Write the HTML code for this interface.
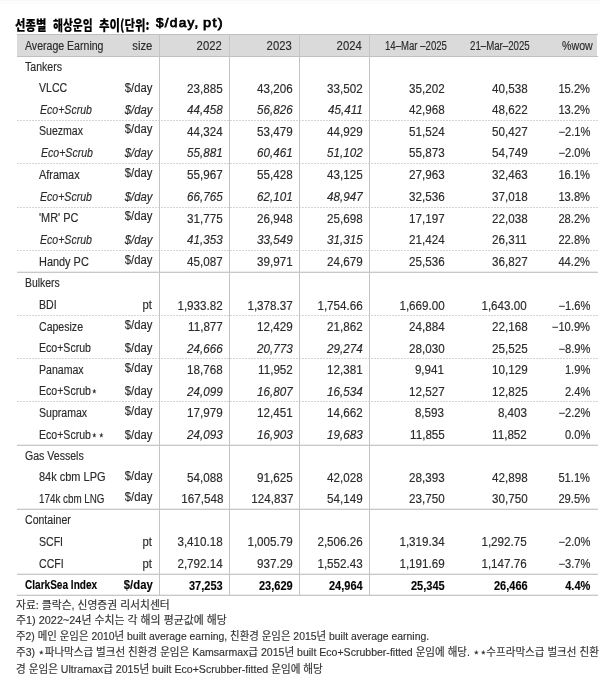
<!DOCTYPE html>
<html><head><meta charset="utf-8"><style>
html,body{margin:0;padding:0;background:#fff;}
.topfade{position:absolute;left:0;top:0;width:600px;height:4px;background:linear-gradient(#f8f8f8 0 1px,#fcfcfc 1px 4px);}
body{width:600px;height:696px;position:relative;overflow:hidden;font-family:"Liberation Sans","Noto Sans CJK KR",sans-serif;color:#2a2a2a;-webkit-text-stroke:0.15px #2a2a2a;}
.t{position:absolute;font-size:12px;line-height:14px;white-space:nowrap;}
.l{transform-origin:left center;transform:scaleX(0.88);}
.r{transform-origin:right center;transform:scaleX(0.97);}
.i{font-style:italic;}
.b{font-weight:bold;color:#000;}
.hl{position:absolute;left:17px;width:581px;height:1px;background:#c8c8c8;box-shadow:0 -1px 0 #ececec;}
.dl{position:absolute;left:17px;width:581px;height:1px;background:repeating-linear-gradient(90deg,#d4d4d4 0 2px,transparent 2px 3px);}
.vl{position:absolute;width:1px;background:#c4c4c4;top:34px;height:562px;}
.hdr{position:absolute;left:17px;top:34px;width:580px;height:23px;background:#dadada;}
.title{position:absolute;left:16px;top:13px;font-size:14px;line-height:18px;font-weight:bold;color:#000;white-space:nowrap;}
.fn{position:absolute;left:17px;font-size:10.5px;line-height:14px;white-space:nowrap;color:#222;}
</style></head><body>

<div class="topfade"></div>
<div style="position:absolute;left:15.39px;top:14.50px;white-space:nowrap;transform-origin:0 0;transform:scaleX(0.8108);font-family:'Noto Sans CJK KR',sans-serif;font-weight:900;font-size:14px;line-height:18px;color:#000">선종별</div>
<div style="position:absolute;left:52.50px;top:14.50px;white-space:nowrap;transform-origin:0 0;transform:scaleX(0.7700);font-family:'Noto Sans CJK KR',sans-serif;font-weight:900;font-size:14px;line-height:18px;color:#000">해상운임</div>
<div style="position:absolute;left:98.90px;top:14.50px;white-space:nowrap;transform-origin:0 0;transform:scaleX(0.8131);font-family:'Noto Sans CJK KR',sans-serif;font-weight:900;font-size:14px;line-height:18px;color:#000">추이(단위:</div>
<div style="position:absolute;left:156.20px;top:13.70px;white-space:nowrap;transform-origin:0 0;transform:scaleX(1.0450);font-family:'Liberation Sans',sans-serif;font-weight:normal;-webkit-text-stroke:0.75px #000;letter-spacing:1.2px;font-size:13px;line-height:18px;color:#000">$/day,</div>
<div style="position:absolute;left:202.70px;top:13.50px;white-space:nowrap;transform-origin:0 0;transform:scaleX(1.1176);font-family:'Liberation Sans',sans-serif;font-weight:normal;-webkit-text-stroke:0.75px #000;letter-spacing:1.2px;font-size:13px;line-height:18px;color:#000">pt)</div>
<div class="hdr"></div>
<div class="hl" style="top:34px;background:#c0c0c0;box-shadow:none"></div>
<div class="hl" style="top:56px;background:#c0c0c0;box-shadow:none"></div>
<div class="dl" style="top:120px"></div>
<div class="dl" style="top:163px"></div>
<div class="dl" style="top:207px"></div>
<div class="dl" style="top:250px"></div>
<div class="dl" style="top:315px"></div>
<div class="dl" style="top:358px"></div>
<div class="dl" style="top:401px"></div>
<div class="hl" style="top:272px"></div>
<div class="hl" style="top:445px"></div>
<div class="hl" style="top:509px"></div>
<div class="hl" style="top:574px"></div>
<div class="hl" style="top:595px"></div>
<div class="vl" style="left:159px"></div>
<div class="vl" style="left:229px"></div>
<div class="vl" style="left:299px"></div>
<div class="vl" style="left:369px"></div>
<div class="t l" style="left:25px;top:38.50px">Average Earning</div>
<div class="t r" style="transform:scaleX(0.94);right:447.50px;top:38.50px">size</div>
<div class="t r" style="transform:scaleX(0.94);right:378.00px;top:38.50px">2022</div>
<div class="t r" style="transform:scaleX(0.94);right:308.00px;top:38.50px">2023</div>
<div class="t r" style="transform:scaleX(0.94);right:238.00px;top:38.50px">2024</div>
<div class="t" style="left:385.20px;top:38.50px;transform-origin:0 0;transform:scaleX(0.8000)">14–Mar –2025</div>
<div class="t" style="left:470.39px;top:38.50px;transform-origin:0 0;transform:scaleX(0.8055)">21–Mar–2025</div>
<div class="t" style="left:561.50px;top:38.50px;transform-origin:0 0;transform:scaleX(0.8857)">%wow</div>
<div class="t l" style="left:25px;top:59.80px">Tankers</div>
<div class="t l" style="left:39px;top:81.20px">VLCC</div>
<div class="t r" style="transform:scaleX(0.94);right:447.50px;top:81.20px">$/day</div>
<div class="t r" style="right:377.00px;top:81.70px">23,885</div>
<div class="t r" style="right:307.00px;top:81.70px">43,206</div>
<div class="t r" style="right:237.00px;top:81.70px">33,502</div>
<div class="t r" style="transform:scaleX(0.97);right:155.50px;top:81.70px">35,202</div>
<div class="t r" style="transform:scaleX(0.97);right:72.80px;top:81.70px">40,538</div>
<div class="t r" style="transform:scaleX(0.93);right:10.00px;top:81.70px">15.2%</div>
<div class="t l i" style="left:39.5px;top:102.50px">Eco+Scrub</div>
<div class="t r i" style="transform:scaleX(0.94);right:447.50px;top:102.50px">$/day</div>
<div class="t r i" style="right:377.00px;top:103.00px">44,458</div>
<div class="t r i" style="right:307.00px;top:103.00px">56,826</div>
<div class="t r i" style="right:237.00px;top:103.00px">45,411</div>
<div class="t r" style="transform:scaleX(0.97);right:155.50px;top:103.00px">42,968</div>
<div class="t r" style="transform:scaleX(0.97);right:72.80px;top:103.00px">48,622</div>
<div class="t r" style="transform:scaleX(0.93);right:10.00px;top:103.00px">13.2%</div>
<div class="t l" style="left:39px;top:124.00px">Suezmax</div>
<div class="t r" style="transform:scaleX(0.94);right:447.50px;top:122.30px">$/day</div>
<div class="t r" style="right:377.00px;top:124.50px">44,324</div>
<div class="t r" style="right:307.00px;top:124.50px">53,479</div>
<div class="t r" style="right:237.00px;top:124.50px">44,929</div>
<div class="t r" style="transform:scaleX(0.97);right:155.50px;top:124.50px">51,524</div>
<div class="t r" style="transform:scaleX(0.97);right:72.80px;top:124.50px">50,427</div>
<div class="t r" style="transform:scaleX(0.93);right:10.00px;top:124.50px">−2.1%</div>
<div class="t l i" style="left:41px;top:145.50px">Eco+Scrub</div>
<div class="t r i" style="transform:scaleX(0.94);right:447.50px;top:145.50px">$/day</div>
<div class="t r i" style="right:377.00px;top:146.00px">55,881</div>
<div class="t r i" style="right:307.00px;top:146.00px">60,461</div>
<div class="t r i" style="right:237.00px;top:146.00px">51,102</div>
<div class="t r" style="transform:scaleX(0.97);right:155.50px;top:146.00px">55,873</div>
<div class="t r" style="transform:scaleX(0.97);right:72.80px;top:146.00px">54,749</div>
<div class="t r" style="transform:scaleX(0.93);right:10.00px;top:146.00px">−2.0%</div>
<div class="t l" style="transform:scaleX(0.91);left:39px;top:167.50px">Aframax</div>
<div class="t r" style="transform:scaleX(0.94);right:447.50px;top:165.70px">$/day</div>
<div class="t r" style="right:377.00px;top:168.00px">55,967</div>
<div class="t r" style="right:307.00px;top:168.00px">55,428</div>
<div class="t r" style="right:237.00px;top:168.00px">43,125</div>
<div class="t r" style="transform:scaleX(0.97);right:155.50px;top:168.00px">27,963</div>
<div class="t r" style="transform:scaleX(0.97);right:72.80px;top:168.00px">32,463</div>
<div class="t r" style="transform:scaleX(0.93);right:10.00px;top:168.00px">16.1%</div>
<div class="t l i" style="left:39.5px;top:189.50px">Eco+Scrub</div>
<div class="t r i" style="transform:scaleX(0.94);right:447.50px;top:189.50px">$/day</div>
<div class="t r i" style="right:377.00px;top:190.00px">66,765</div>
<div class="t r i" style="right:307.00px;top:190.00px">62,101</div>
<div class="t r i" style="right:237.00px;top:190.00px">48,947</div>
<div class="t r" style="transform:scaleX(0.97);right:155.50px;top:190.00px">32,536</div>
<div class="t r" style="transform:scaleX(0.97);right:72.80px;top:190.00px">37,018</div>
<div class="t r" style="transform:scaleX(0.93);right:10.00px;top:190.00px">13.8%</div>
<div class="t l" style="transform:scaleX(0.91);left:39px;top:211.00px">'MR' PC</div>
<div class="t r" style="transform:scaleX(0.94);right:447.50px;top:209.30px">$/day</div>
<div class="t r" style="right:377.00px;top:211.50px">31,775</div>
<div class="t r" style="right:307.00px;top:211.50px">26,948</div>
<div class="t r" style="right:237.00px;top:211.50px">25,698</div>
<div class="t r" style="transform:scaleX(0.97);right:155.50px;top:211.50px">17,197</div>
<div class="t r" style="transform:scaleX(0.97);right:72.80px;top:211.50px">22,038</div>
<div class="t r" style="transform:scaleX(0.93);right:10.00px;top:211.50px">28.2%</div>
<div class="t l i" style="left:39.5px;top:232.50px">Eco+Scrub</div>
<div class="t r i" style="transform:scaleX(0.94);right:447.50px;top:232.50px">$/day</div>
<div class="t r i" style="right:377.00px;top:233.00px">41,353</div>
<div class="t r i" style="right:307.00px;top:233.00px">33,549</div>
<div class="t r i" style="right:237.00px;top:233.00px">31,315</div>
<div class="t r" style="transform:scaleX(0.97);right:155.50px;top:233.00px">21,424</div>
<div class="t r" style="transform:scaleX(0.97);right:72.80px;top:233.00px">26,311</div>
<div class="t r" style="transform:scaleX(0.93);right:10.00px;top:233.00px">22.8%</div>
<div class="t l" style="transform:scaleX(0.91);left:39px;top:254.50px">Handy PC</div>
<div class="t r" style="transform:scaleX(0.94);right:447.50px;top:252.70px">$/day</div>
<div class="t r" style="right:377.00px;top:255.00px">45,087</div>
<div class="t r" style="right:307.00px;top:255.00px">39,971</div>
<div class="t r" style="right:237.00px;top:255.00px">24,679</div>
<div class="t r" style="transform:scaleX(0.97);right:155.50px;top:255.00px">25,536</div>
<div class="t r" style="transform:scaleX(0.97);right:72.80px;top:255.00px">36,827</div>
<div class="t r" style="transform:scaleX(0.93);right:10.00px;top:255.00px">44.2%</div>
<div class="t l" style="transform:scaleX(0.865);left:25px;top:276.25px">Bulkers</div>
<div class="t l" style="left:39px;top:298.00px">BDI</div>
<div class="t r" style="transform:scaleX(0.94);right:447.50px;top:298.00px">pt</div>
<div class="t r" style="right:377.00px;top:298.50px">1,933.82</div>
<div class="t r" style="right:307.00px;top:298.50px">1,378.37</div>
<div class="t r" style="right:237.00px;top:298.50px">1,754.66</div>
<div class="t r" style="transform:scaleX(0.97);right:155.50px;top:298.50px">1,669.00</div>
<div class="t r" style="transform:scaleX(0.97);right:72.80px;top:298.50px">1,643.00</div>
<div class="t r" style="transform:scaleX(0.93);right:10.00px;top:298.50px">−1.6%</div>
<div class="t l" style="left:39px;top:319.50px">Capesize</div>
<div class="t r" style="transform:scaleX(0.94);right:447.50px;top:318.30px">$/day</div>
<div class="t r" style="right:377.00px;top:320.00px">11,877</div>
<div class="t r" style="right:307.00px;top:320.00px">12,429</div>
<div class="t r" style="right:237.00px;top:320.00px">21,862</div>
<div class="t r" style="transform:scaleX(0.97);right:155.50px;top:320.00px">24,884</div>
<div class="t r" style="transform:scaleX(0.97);right:72.80px;top:320.00px">22,168</div>
<div class="t r" style="transform:scaleX(0.93);right:10.00px;top:320.00px">−10.9%</div>
<div class="t l" style="left:39px;top:341.00px">Eco+Scrub</div>
<div class="t r" style="transform:scaleX(0.94);right:447.50px;top:341.00px">$/day</div>
<div class="t r i" style="right:377.00px;top:341.50px">24,666</div>
<div class="t r i" style="right:307.00px;top:341.50px">20,773</div>
<div class="t r i" style="right:237.00px;top:341.50px">29,274</div>
<div class="t r" style="transform:scaleX(0.97);right:155.50px;top:341.50px">28,030</div>
<div class="t r" style="transform:scaleX(0.97);right:72.80px;top:341.50px">25,525</div>
<div class="t r" style="transform:scaleX(0.93);right:10.00px;top:341.50px">−8.9%</div>
<div class="t l" style="left:39px;top:362.50px">Panamax</div>
<div class="t r" style="transform:scaleX(0.94);right:447.50px;top:360.90px">$/day</div>
<div class="t r" style="right:377.00px;top:363.00px">18,768</div>
<div class="t r" style="right:307.00px;top:363.00px">11,952</div>
<div class="t r" style="right:237.00px;top:363.00px">12,381</div>
<div class="t r" style="transform:scaleX(0.97);right:155.50px;top:363.00px">9,941</div>
<div class="t r" style="transform:scaleX(0.97);right:72.80px;top:363.00px">10,129</div>
<div class="t r" style="transform:scaleX(0.93);right:10.00px;top:363.00px">1.9%</div>
<div class="t l" style="left:39px;top:384.00px">Eco+Scrub⋆</div>
<div class="t r" style="transform:scaleX(0.94);right:447.50px;top:384.00px">$/day</div>
<div class="t r i" style="right:377.00px;top:384.50px">24,099</div>
<div class="t r i" style="right:307.00px;top:384.50px">16,807</div>
<div class="t r i" style="right:237.00px;top:384.50px">16,534</div>
<div class="t r" style="transform:scaleX(0.97);right:155.50px;top:384.50px">12,527</div>
<div class="t r" style="transform:scaleX(0.97);right:72.80px;top:384.50px">12,825</div>
<div class="t r" style="transform:scaleX(0.93);right:10.00px;top:384.50px">2.4%</div>
<div class="t l" style="left:39px;top:405.75px">Supramax</div>
<div class="t r" style="transform:scaleX(0.94);right:447.50px;top:404.05px">$/day</div>
<div class="t r" style="right:377.00px;top:406.25px">17,979</div>
<div class="t r" style="right:307.00px;top:406.25px">12,451</div>
<div class="t r" style="right:237.00px;top:406.25px">14,662</div>
<div class="t r" style="transform:scaleX(0.97);right:155.50px;top:406.25px">8,593</div>
<div class="t r" style="transform:scaleX(0.97);right:72.80px;top:406.25px">8,403</div>
<div class="t r" style="transform:scaleX(0.93);right:10.00px;top:406.25px">−2.2%</div>
<div class="t l" style="left:39px;top:427.50px">Eco+Scrub⋆⋆</div>
<div class="t r" style="transform:scaleX(0.94);right:447.50px;top:427.50px">$/day</div>
<div class="t r i" style="right:377.00px;top:428.00px">24,093</div>
<div class="t r i" style="right:307.00px;top:428.00px">16,903</div>
<div class="t r i" style="right:237.00px;top:428.00px">19,683</div>
<div class="t r" style="transform:scaleX(0.97);right:155.50px;top:428.00px">11,855</div>
<div class="t r" style="transform:scaleX(0.97);right:72.80px;top:428.00px">11,852</div>
<div class="t r" style="transform:scaleX(0.93);right:10.00px;top:428.00px">0.0%</div>
<div class="t l" style="left:25px;top:448.80px">Gas Vessels</div>
<div class="t l" style="transform:scaleX(0.915);left:39px;top:470.20px">84k cbm LPG</div>
<div class="t r" style="transform:scaleX(0.94);right:447.50px;top:468.70px">$/day</div>
<div class="t r" style="right:377.00px;top:470.70px">54,088</div>
<div class="t r" style="right:307.00px;top:470.70px">91,625</div>
<div class="t r" style="right:237.00px;top:470.70px">42,028</div>
<div class="t r" style="transform:scaleX(0.97);right:155.50px;top:470.70px">28,393</div>
<div class="t r" style="transform:scaleX(0.97);right:72.80px;top:470.70px">42,898</div>
<div class="t r" style="transform:scaleX(0.93);right:10.00px;top:470.70px">51.1%</div>
<div class="t l" style="transform:scaleX(0.818);left:39px;top:491.50px">174k cbm LNG</div>
<div class="t r" style="transform:scaleX(0.94);right:447.50px;top:489.50px">$/day</div>
<div class="t r" style="right:377.00px;top:492.00px">167,548</div>
<div class="t r" style="right:307.00px;top:492.00px">124,837</div>
<div class="t r" style="right:237.00px;top:492.00px">54,149</div>
<div class="t r" style="transform:scaleX(0.97);right:155.50px;top:492.00px">23,750</div>
<div class="t r" style="transform:scaleX(0.97);right:72.80px;top:492.00px">30,750</div>
<div class="t r" style="transform:scaleX(0.93);right:10.00px;top:492.00px">29.5%</div>
<div class="t l" style="left:25px;top:513.20px">Container</div>
<div class="t l" style="left:39px;top:534.80px">SCFI</div>
<div class="t r" style="transform:scaleX(0.94);right:447.50px;top:534.80px">pt</div>
<div class="t r" style="right:377.00px;top:535.30px">3,410.18</div>
<div class="t r" style="right:307.00px;top:535.30px">1,005.79</div>
<div class="t r" style="right:237.00px;top:535.30px">2,506.26</div>
<div class="t r" style="transform:scaleX(0.97);right:155.50px;top:535.30px">1,319.34</div>
<div class="t r" style="transform:scaleX(0.97);right:72.80px;top:535.30px">1,292.75</div>
<div class="t r" style="transform:scaleX(0.93);right:10.00px;top:535.30px">−2.0%</div>
<div class="t l" style="left:39px;top:556.50px">CCFI</div>
<div class="t r" style="transform:scaleX(0.94);right:447.50px;top:556.50px">pt</div>
<div class="t r" style="right:377.00px;top:557.00px">2,792.14</div>
<div class="t r" style="right:307.00px;top:557.00px">937.29</div>
<div class="t r" style="right:237.00px;top:557.00px">1,552.43</div>
<div class="t r" style="transform:scaleX(0.97);right:155.50px;top:557.00px">1,191.69</div>
<div class="t r" style="transform:scaleX(0.97);right:72.80px;top:557.00px">1,147.76</div>
<div class="t r" style="transform:scaleX(0.93);right:10.00px;top:557.00px">−3.7%</div>
<div class="t l b" style="transform:scaleX(0.838);left:25px;top:578.00px">ClarkSea Index</div>
<div class="t r b" style="transform:scaleX(0.94);right:447.50px;top:578.00px">$/day</div>
<div class="t r b" style="transform:scaleX(0.92);right:377.00px;top:578.50px">37,253</div>
<div class="t r b" style="transform:scaleX(0.92);right:307.00px;top:578.50px">23,629</div>
<div class="t r b" style="transform:scaleX(0.92);right:237.00px;top:578.50px">24,964</div>
<div class="t r b" style="transform:scaleX(0.92);right:155.50px;top:578.50px">25,345</div>
<div class="t r b" style="transform:scaleX(0.92);right:72.80px;top:578.50px">26,466</div>
<div class="t r b" style="transform:scaleX(0.92);right:10.00px;top:578.50px">4.4%</div>
<div style="position:absolute;left:16.02px;top:598.40px;white-space:nowrap;transform-origin:0 0;transform:scaleX(0.9794);font-family:'Liberation Sans','Noto Sans CJK KR',sans-serif;font-size:11px;line-height:14px;color:#333">자료: 클락슨, 신영증권 리서치센터</div>
<div style="position:absolute;left:16.01px;top:613.30px;white-space:nowrap;transform-origin:0 0;transform:scaleX(0.9900);font-family:'Liberation Sans','Noto Sans CJK KR',sans-serif;font-size:11px;line-height:14px;color:#333">주1) 2022~24년 수치는 각 해의 평균값에 해당</div>
<div style="position:absolute;left:16.05px;top:628.50px;white-space:nowrap;transform-origin:0 0;transform:scaleX(0.9466);font-family:'Liberation Sans','Noto Sans CJK KR',sans-serif;font-size:11px;line-height:14px;color:#333">주2) 메인 운임은 2010년 built average earning, 친환경 운임은 2015년 built average earning.</div>
<div style="position:absolute;left:16.04px;top:644.60px;white-space:nowrap;transform-origin:0 0;transform:scaleX(0.9580);font-family:'Liberation Sans','Noto Sans CJK KR',sans-serif;font-size:11px;line-height:14px;color:#333">주3) ⋆파나막스급 벌크선 친환경 운임은 Kamsarmax급 2015년 built Eco+Scrubber-fitted 운임에 해당. ⋆⋆수프라막스급 벌크선 친환</div>
<div style="position:absolute;left:16.04px;top:661.70px;white-space:nowrap;transform-origin:0 0;transform:scaleX(0.9621);font-family:'Liberation Sans','Noto Sans CJK KR',sans-serif;font-size:11px;line-height:14px;color:#333">경 운임은 Ultramax급 2015년 built Eco+Scrubber-fitted 운임에 해당</div>
</body></html>
